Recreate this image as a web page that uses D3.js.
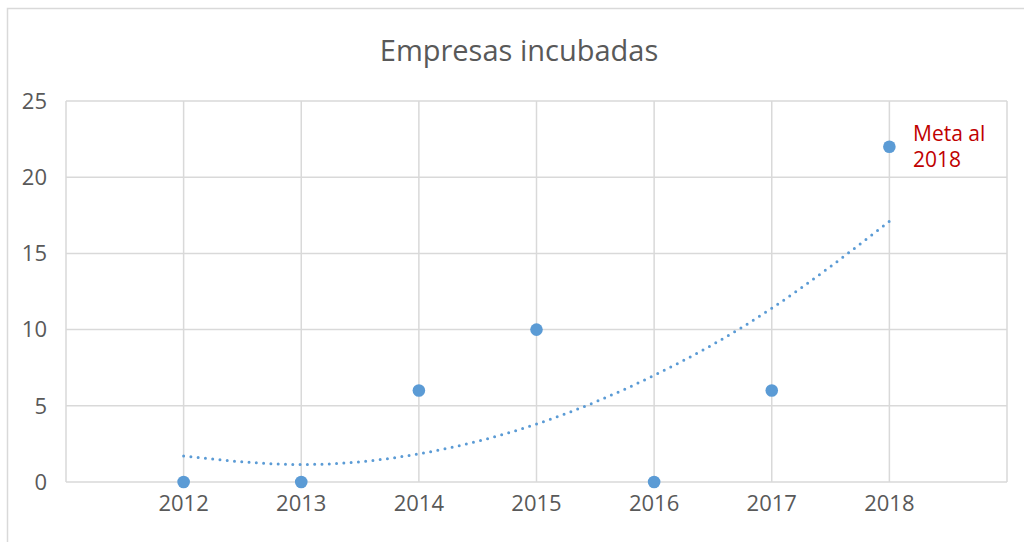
<!DOCTYPE html>
<html>
<head>
<meta charset="utf-8">
<script src="https://cdn.jsdelivr.net/npm/d3@7/dist/d3.min.js"></script>
<style>
  html, body { margin: 0; padding: 0; background: #fff; }
  svg text { font-family: "Open Sans", "Noto Sans", sans-serif; }
</style>
</head>
<body>
<div id="chart"></div>
<script>
  // data
  var years = [2012, 2013, 2014, 2015, 2016, 2017, 2018];
  var empresas = [0, 0, 6, 10, 0, 6, 22];
  // dotted trend line, read at each year
  var trendValues = [1.7, 1.15, 1.85, 3.8, 7.0, 11.4, 17.1];
  var yTicks = [0, 5, 10, 15, 20, 25];
  var xDomain = [2011, 2019];
  var title = "Empresas incubadas";
  var noteLines = ["Meta al", "2018"];

  var width = 1024, height = 542;
  var margin = {left: 66, right: 17, top: 101, bottom: 60};

  var svg = d3.select("#chart").append("svg")
    .attr("width", width).attr("height", height);

  // chart frame
  svg.append("rect")
    .attr("x", 7.5).attr("y", 8.5)
    .attr("width", 1100).attr("height", 600)
    .attr("fill", "none").attr("stroke", "#d9d9d9").attr("stroke-width", 1.5);

  var x = d3.scaleLinear().domain(xDomain).range([margin.left, width - margin.right]);
  var y = d3.scaleLinear().domain([0, 25]).range([height - margin.bottom, margin.top]);

  // grid
  var xGrid = d3.range(xDomain[0], xDomain[1] + 1);
  svg.append("g").selectAll("line").data(yTicks).join("line")
    .attr("x1", x(xDomain[0])).attr("x2", x(xDomain[1]))
    .attr("y1", function (d) { return y(d); }).attr("y2", function (d) { return y(d); })
    .attr("stroke", "#d9d9d9").attr("stroke-width", 1.5);
  svg.append("g").selectAll("line").data(xGrid).join("line")
    .attr("x1", function (d) { return x(d); }).attr("x2", function (d) { return x(d); })
    .attr("y1", y(0)).attr("y2", y(25))
    .attr("stroke", "#d9d9d9").attr("stroke-width", 1.5);

  // axes labels
  svg.append("g").selectAll("text").data(yTicks).join("text")
    .attr("x", 47).attr("y", function (d) { return y(d); })
    .attr("dy", "0.35em")
    .attr("text-anchor", "end")
    .attr("font-size", 22).attr("fill", "#595959")
    .text(function (d) { return d; });

  svg.append("g").selectAll("text").data(years).join("text")
    .attr("x", function (d) { return x(d); }).attr("y", 511)
    .attr("text-anchor", "middle")
    .attr("font-size", 22).attr("fill", "#595959")
    .text(function (d) { return d; });

  // title
  svg.append("text")
    .attr("x", 519).attr("y", 61)
    .attr("text-anchor", "middle")
    .attr("font-size", 29).attr("fill", "#595959")
    .text(title);

  // trend line
  var line = d3.line()
    .x(function (d, i) { return x(years[i]); })
    .y(function (d) { return y(d); })
    .curve(d3.curveNatural);
  svg.append("path")
    .datum(trendValues)
    .attr("d", line)
    .attr("fill", "none")
    .attr("stroke", "#5b9bd5")
    .attr("stroke-width", 3)
    .attr("stroke-linecap", "round")
    .attr("stroke-dasharray", "0,7.3");

  // points
  svg.append("g").selectAll("circle").data(empresas).join("circle")
    .attr("cx", function (d, i) { return x(years[i]); })
    .attr("cy", function (d) { return y(d); })
    .attr("r", 6.3)
    .attr("fill", "#5b9bd5");

  // note next to last point
  svg.append("text")
    .attr("x", 913).attr("y", 141)
    .attr("font-size", 21).attr("fill", "#c00000")
    .selectAll("tspan").data(noteLines).join("tspan")
    .attr("x", 913)
    .attr("dy", function (d, i) { return i === 0 ? 0 : 26; })
    .text(function (d) { return d; });
</script>
</body>
</html>
